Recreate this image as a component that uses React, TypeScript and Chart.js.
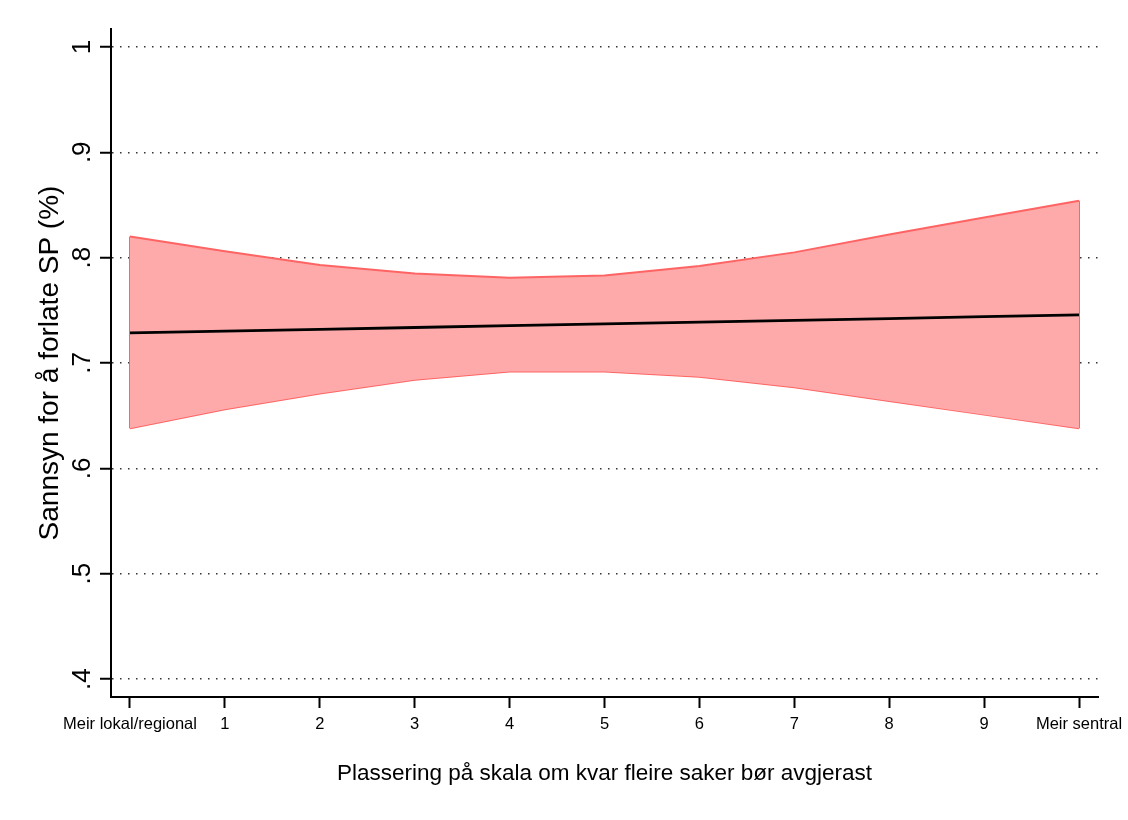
import React, { useEffect, useRef } from "react";
import { Chart, registerables } from "chart.js";

Chart.register(...registerables);

const xValues = [0, 1, 2, 3, 4, 5, 6, 7, 8, 9, 10];
const xTickLabels = ["Meir lokal/regional", "1", "2", "3", "4", "5", "6", "7", "8", "9", "Meir sentral"];
const meanValues = [0.7286, 0.7303, 0.732, 0.7337, 0.7354, 0.7371, 0.7388, 0.7405, 0.7422, 0.744, 0.7457];
const upperValues = [0.82, 0.806, 0.793, 0.785, 0.781, 0.783, 0.792, 0.805, 0.822, 0.838, 0.854];
const lowerValues = [0.638, 0.656, 0.671, 0.684, 0.692, 0.692, 0.687, 0.677, 0.664, 0.651, 0.638];
const yTicks = [0.4, 0.5, 0.6, 0.7, 0.8, 0.9, 1];
const yTickLabels = [".4", ".5", ".6", ".7", ".8", ".9", "1"];

const FONT = "'Liberation Sans', Arial, Helvetica, sans-serif";
const BAND_FILL = "rgb(255,170,170)";
const BAND_LINE = "rgb(255,100,100)";

export default function App() {
  const ref = useRef<HTMLCanvasElement | null>(null);

  useEffect(() => {
    if (!ref.current) return;
    const pts = (ys: number[]) => xValues.map((x, i) => ({ x, y: ys[i] }));
    const last = xValues.length - 1;
    const chart = new Chart(ref.current, {
      type: "line",
      data: {
        datasets: [
          {
            data: pts(meanValues),
            borderColor: "#000",
            borderWidth: 2.8,
            pointRadius: 0,
            fill: false,
          },
          {
            data: pts(upperValues),
            borderColor: BAND_LINE,
            borderWidth: 2,
            backgroundColor: BAND_FILL,
            pointRadius: 0,
            fill: "+1",
          },
          {
            data: pts(lowerValues),
            borderColor: BAND_LINE,
            borderWidth: 2,
            pointRadius: 0,
            fill: false,
          },
          {
            data: [
              { x: xValues[0], y: lowerValues[0] },
              { x: xValues[0], y: upperValues[0] },
            ],
            borderColor: BAND_LINE,
            borderWidth: 2,
            pointRadius: 0,
            fill: false,
          },
          {
            data: [
              { x: xValues[last], y: lowerValues[last] },
              { x: xValues[last], y: upperValues[last] },
            ],
            borderColor: BAND_LINE,
            borderWidth: 2,
            pointRadius: 0,
            fill: false,
          },
        ],
      },
      options: {
        animation: false,
        responsive: false,
        devicePixelRatio: 1,
        layout: { padding: { top: 29, right: 30, left: 0, bottom: 0 } },
        plugins: {
          legend: { display: false },
          tooltip: { enabled: false },
        },
        scales: {
          x: {
            type: "linear",
            min: -0.2,
            max: 10.2,
            afterBuildTicks: (scale: any) => {
              scale.ticks = xValues.map((v) => ({ value: v }));
            },
            afterFit: (scale: any) => {
              scale.height = 123;
              scale.paddingLeft = 0;
              scale.paddingRight = 0;
            },
            ticks: {
              autoSkip: false,
              maxRotation: 0,
              minRotation: 0,
              padding: 7,
              color: "#000",
              font: { family: FONT, size: 16.5 },
              callback: (v: any) => {
                const i = xValues.indexOf(Number(v));
                return i >= 0 ? xTickLabels[i] : "";
              },
            },
            grid: {
              drawOnChartArea: false,
              drawTicks: true,
              tickLength: 11,
              tickColor: "#000",
              tickWidth: 2,
            },
            border: { display: true, color: "#000", width: 2 },
            title: {
              display: true,
              text: "Plassering på skala om kvar fleire saker bør avgjerast",
              color: "#000",
              font: { family: FONT, size: 22.5 },
              padding: { top: 0, bottom: 33 },
            },
          },
          y: {
            type: "linear",
            min: 0.383,
            max: 1.017,
            afterBuildTicks: (scale: any) => {
              scale.ticks = yTicks.map((v) => ({ value: v }));
            },
            afterFit: (scale: any) => {
              scale.width = 111;
              scale.paddingTop = 0;
              scale.paddingBottom = 0;
            },
            ticks: {
              minRotation: 90,
              maxRotation: 90,
              crossAlign: "center",
              padding: 6,
              color: "#000",
              font: { family: FONT, size: 26 },
              callback: (v: any) => {
                const i = yTicks.findIndex((t) => Math.abs(t - Number(v)) < 1e-6);
                return i >= 0 ? yTickLabels[i] : "";
              },
            },
            grid: {
              drawOnChartArea: true,
              drawTicks: true,
              color: "#333",
              lineWidth: 1.5,
              tickLength: 11,
              tickColor: "#000",
              tickWidth: 2,
              tickBorderDash: [],
            },
            border: { display: true, color: "#000", width: 2, dash: [1.5, 6.5] },
            title: {
              display: true,
              text: "Sannsyn for å forlate SP (%)",
              color: "#000",
              font: { family: FONT, size: 28 },
              padding: { top: 33, bottom: 0 },
            },
          },
        },
      },
    } as any);
    return () => chart.destroy();
  }, []);

  return (
    <div style={{ position: "absolute", left: 0, top: 0, width: 1128, height: 820, background: "#fff" }}>
      <canvas ref={ref} width={1128} height={820} />
    </div>
  );
}
